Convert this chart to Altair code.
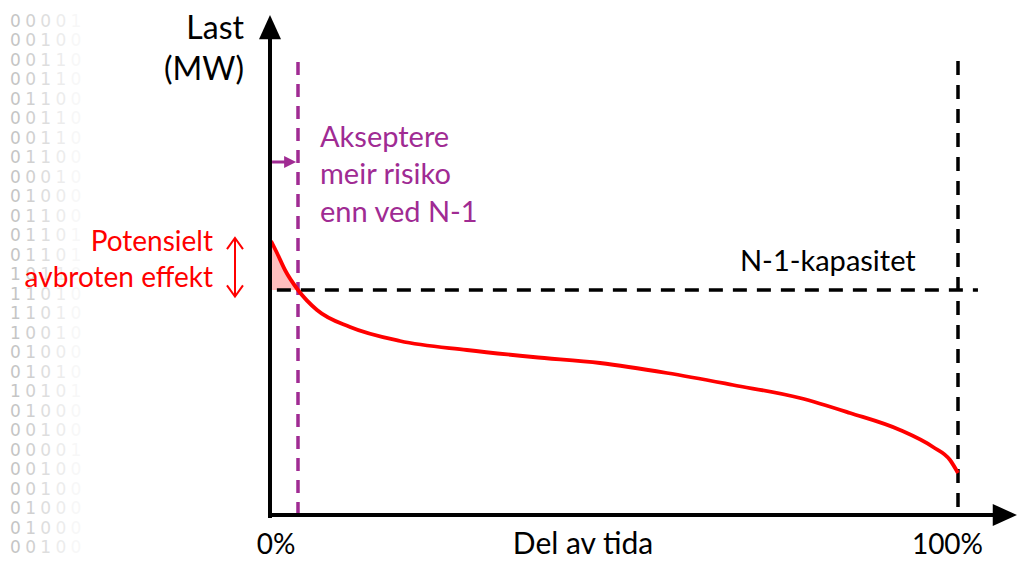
import altair as alt
import pandas as pd

# ---- data (x: share of time in %, y: load in arbitrary units) ----
curve_x = [0.15, 1.02, 2.18, 4.07, 6.83, 11.63, 18.90, 28.63, 38.23, 47.97,
           57.70, 67.30, 77.03, 84.30, 91.57, 96.37, 98.84, 100.0]
curve_y = [54.8, 52.4, 49.0, 45.0, 41.0, 37.6, 34.8, 33.0, 31.6, 30.4,
           28.4, 26.0, 23.4, 20.4, 17.0, 13.6, 11.0, 8.4]
n1_capacity = 45.0
risk_share = 4.07
full_share = 100.0

# decorative binary watermark rows
binary_rows = ["00001", "00100", "00110", "00110", "01100", "00110",
               "00110", "01100", "00010", "01000", "01100", "01101", "01101",
               "10110", "11010", "11010", "10010", "01000", "01010", "10101",
               "01000", "00100", "00001", "00100", "00100", "01000", "01000",
               "00100"]
binary_opacity = [0.45, 0.36, 0.25, 0.14, 0.06]

# text
y_title = ["Last", "(MW)"]
risk_text = ["Akseptere", "meir risiko", "enn ved N-1"]
loss_text = ["Potensielt", "avbroten effekt"]
cap_text = "N-1-kapasitet"
x_ticks = ["0%", "100%"]
x_title = "Del av tida"

PURPLE = "#A02B93"
RED = "#FF0000"
FONT = "Lato"

xs = alt.Scale(domain=[-38.081, 108.721], nice=False, zero=False)
ys = alt.Scale(domain=[-9.0, 101.4], nice=False, zero=False)


def X(f="x"):
    return alt.X(f"{f}:Q", scale=xs, axis=None)


def Y(f="y"):
    return alt.Y(f"{f}:Q", scale=ys, axis=None)


layers = []

# watermark digits
rows = []
col_x = [-37.0, -34.8, -32.6, -30.4, -28.2]
for i, s in enumerate(binary_rows):
    yv = 98.66 - 3.9 * i
    for j, ch in enumerate(s):
        rows.append({"x": col_x[j], "y": yv, "t": ch, "op": binary_opacity[j]})
layers.append(
    alt.Chart(pd.DataFrame(rows)).mark_text(
        font="DejaVu Sans", fontSize=17, color="#808080", baseline="middle"
    ).encode(x=X(), y=Y(), text="t:N", opacity=alt.Opacity("op:Q", scale=None))
)

# pink area above N-1 capacity
area_df = pd.DataFrame({"x": [0.3] + curve_x[1:4],
                        "y": [54.6] + curve_y[1:4],
                        "y2": [n1_capacity] * 4})
layers.append(alt.Chart(area_df).mark_area(color="#FFBEBE", interpolate="monotone")
              .encode(x=X(), y=Y(), y2="y2:Q"))

# N-1 capacity dashed
layers.append(alt.Chart(pd.DataFrame({"x": [1.0], "x2": [102.9], "y": [n1_capacity]}))
              .mark_rule(color="black", strokeWidth=3.5, strokeDash=[14, 10])
              .encode(x=X(), x2="x2:Q", y=Y()))
# 100% dashed
layers.append(alt.Chart(pd.DataFrame({"x": [full_share], "y": [90.8], "y2": [0.0]}))
              .mark_rule(color="black", strokeWidth=3.5, strokeDash=[14, 10])
              .encode(x=X(), y=Y(), y2="y2:Q"))
# purple dashed
layers.append(alt.Chart(pd.DataFrame({"x": [risk_share], "y": [90.6], "y2": [0.0]}))
              .mark_rule(color=PURPLE, strokeWidth=3.5, strokeDash=[13, 9])
              .encode(x=X(), y=Y(), y2="y2:Q"))

# load duration curve
layers.append(alt.Chart(pd.DataFrame({"x": curve_x, "y": curve_y}))
              .mark_line(color=RED, strokeWidth=3.8, interpolate="monotone")
              .encode(x=X(), y=Y()))

# axes
layers.append(alt.Chart(pd.DataFrame({"x": [0.0], "y": [-0.2], "y2": [96.0]}))
              .mark_rule(color="black", strokeWidth=4, strokeCap="square")
              .encode(x=X(), y=Y(), y2="y2:Q"))
layers.append(alt.Chart(pd.DataFrame({"x": [0.0], "x2": [106.0], "y": [0.0]}))
              .mark_rule(color="black", strokeWidth=4, strokeCap="square")
              .encode(x=X(), x2="x2:Q", y=Y()))
layers.append(alt.Chart(pd.DataFrame({"x": [0.0], "y": [100.0]}))
              .mark_point(shape="M-1,2.2L0,0L1,2.2Z", size=484, filled=True,
                          color="black", opacity=1, strokeWidth=0)
              .encode(x=X(), y=Y()))
layers.append(alt.Chart(pd.DataFrame({"x": [108.57], "y": [0.0]}))
              .mark_point(shape="M-2.2,-1L0,0L-2.2,1Z", size=484, filled=True,
                          color="black", opacity=1, strokeWidth=0)
              .encode(x=X(), y=Y()))

# purple arrow
layers.append(alt.Chart(pd.DataFrame({"x": [0.3], "x2": [2.5], "y": [70.6]}))
              .mark_rule(color=PURPLE, strokeWidth=3)
              .encode(x=X(), x2="x2:Q", y=Y()))
layers.append(alt.Chart(pd.DataFrame({"x": [3.8], "y": [70.6]}))
              .mark_point(shape="M-2,-1L0,0L-2,1Z", size=144, filled=True,
                          color=PURPLE, opacity=1, strokeWidth=0)
              .encode(x=X(), y=Y()))

# red double arrow
layers.append(alt.Chart(pd.DataFrame({"x": [-5.09], "y": [55.2], "y2": [43.9]}))
              .mark_rule(color=RED, strokeWidth=2)
              .encode(x=X(), y=Y(), y2="y2:Q"))
layers.append(alt.Chart(pd.DataFrame({"x": [-5.09], "y": [55.4]}))
              .mark_point(shape="M-1,1.4L0,0L1,1.4", size=256, filled=False,
                          color=RED, opacity=1, strokeWidth=2)
              .encode(x=X(), y=Y()))
layers.append(alt.Chart(pd.DataFrame({"x": [-5.09], "y": [43.7]}))
              .mark_point(shape="M-1,-1.4L0,0L1,-1.4", size=256, filled=False,
                          color=RED, opacity=1, strokeWidth=2)
              .encode(x=X(), y=Y()))


def text_layer(texts, xv, yv, size, color, align):
    df = pd.DataFrame({"t": texts, "x": xv, "y": yv})
    return (alt.Chart(df).mark_text(font=FONT, fontSize=size, color=color,
                                    align=align, baseline="alphabetic")
            .encode(x=X(), y=Y(), text="t:N"))


layers.append(text_layer(y_title, [-3.78, -3.78], [95.2, 87.0], 32, "black", "right"))
layers.append(text_layer(risk_text, [7.27] * 3, [73.66, 66.2, 58.66], 29, PURPLE, "left"))
layers.append(text_layer(loss_text, [-8.285] * 2, [52.86, 45.66], 28, RED, "right"))
layers.append(text_layer([cap_text], [68.31], [48.8], 29, "black", "left"))
layers.append(text_layer(x_ticks, [0.9, 98.47], [-7.8, -7.8], 28, "black", "center"))
layers.append(text_layer([x_title], [45.5], [-7.8], 30, "black", "center"))

chart = alt.layer(*layers).properties(
    width=1010, height=552,
    autosize=alt.AutoSizeParams(type="none"), padding=0,
    background="white",
).configure_view(strokeWidth=0)

chart.save("out.html", embed_options={"renderer": "svg", "actions": False})
